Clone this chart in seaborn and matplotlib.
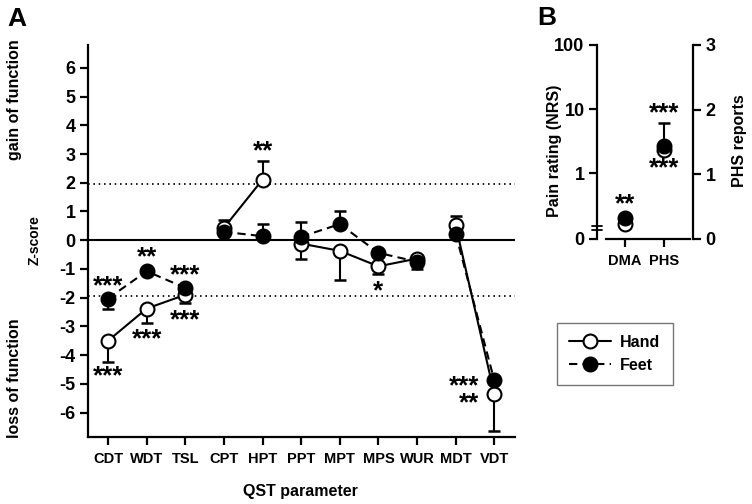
import numpy as np
import pandas as pd
import matplotlib
matplotlib.use("Agg")
import matplotlib.pyplot as plt
from matplotlib.lines import Line2D
from matplotlib.ticker import NullLocator
import seaborn as sns

# QST z-scores (panel A)
params = ['CDT', 'WDT', 'TSL', 'CPT', 'HPT', 'PPT', 'MPT', 'MPS', 'WUR', 'MDT', 'VDT']
hand_z = [-3.50, -2.38, -1.90, 0.43, 2.11, -0.12, -0.37, -0.91, -0.64, 0.52, -5.34]
hand_err = [0.74, 0.49, 0.27, 0.27, 0.64, 0.52, 1.02, 0.25, 0.20, 0.32, 1.31]
feet_z = [-2.03, -1.08, -1.66, 0.29, 0.14, 0.12, 0.56, -0.44, -0.75, 0.23, -4.88]
feet_err = [0.37, 0.10, 0.10, 0.10, 0.44, 0.52, 0.45, 0.10, 0.25, 0.10, 0.10]
segments = [[0, 1, 2], [3, 4], [5, 6, 7, 8], [9, 10]]

# significance stars: text, x position, y (visual centre of last line), alignment
stars_a = [('***', 0, -1.50, 'center'), ('***', 0, -4.63, 'center'),
           ('**', 1, -0.49, 'center'), ('***', 1, -3.37, 'center'),
           ('***', 2, -1.14, 'center'), ('***', 2, -2.69, 'center'),
           ('**', 4, 3.20, 'center'), ('*', 7, -1.68, 'center'),
           ('***\n**', 9.6, -5.57, 'right')]

# panel B
dma_hand, dma_feet = 0.16, 0.20          # pain rating (NRS), log axis
phs_hand, phs_feet = 1.37, 1.44          # PHS reports, linear axis
phs_feet_err = 0.35
stars_b = [('**', 0, 0.58), ('***', 1, 1.98), ('***', 1, 1.14)]

sns.set_style("ticks")
plt.rcParams['font.family'] = ['Liberation Sans', 'DejaVu Sans']
plt.rcParams['font.weight'] = 'bold'
plt.rcParams['axes.labelweight'] = 'bold'
plt.rcParams['axes.unicode_minus'] = False
plt.rcParams['axes.edgecolor'] = 'black'
plt.rcParams['axes.linewidth'] = 1.6
plt.rcParams['text.color'] = 'black'
plt.rcParams['axes.labelcolor'] = 'black'
for k in ['xtick', 'ytick']:
    plt.rcParams[k + '.color'] = 'black'
    plt.rcParams[k + '.labelcolor'] = 'black'
    plt.rcParams[k + '.major.width'] = 1.6

STAR_FS = 18.5

fig = plt.figure(figsize=(7.52, 5.04), dpi=100)

# ---------- Panel A ----------
ax = fig.add_axes([0.117, 0.133, 0.568, 0.778])
df = pd.DataFrame({'param': params, 'pos': np.arange(len(params)),
                   'hand': hand_z, 'hand_err': hand_err,
                   'feet': feet_z, 'feet_err': feet_err})

ax.axhline(0, color='black', lw=1.5, zorder=1)
for lvl in (1.96, -1.96):
    ax.axhline(lvl, color='black', lw=1.2, ls=(0, (1, 2.2)), zorder=1)

for col in ['hand', 'feet']:
    z = df[col].values
    e = df[col + '_err'].values
    lower = np.where(z < 0, e, 0)
    upper = np.where(z >= 0, e, 0)
    ax.errorbar(df['pos'], z, yerr=[lower, upper], fmt='none', ecolor='black',
                elinewidth=1.5, capsize=4.5, capthick=1.8, zorder=2)

for seg in segments:
    d = df.iloc[seg]
    sns.lineplot(data=d, x='pos', y='hand', ax=ax, color='black', lw=1.5,
                 marker='o', markersize=10, markerfacecolor='white',
                 markeredgecolor='black', markeredgewidth=1.5, zorder=3)
    sns.lineplot(data=d, x='pos', y='feet', ax=ax, color='black', lw=1.5,
                 linestyle=(0, (4, 2.5)), marker='o', markersize=10,
                 markerfacecolor='black', markeredgecolor='black',
                 markeredgewidth=1.5, zorder=4)

for txt, x, y, ha in stars_a:
    ax.annotate(txt, (x, y), xytext=(0, -0.38 * STAR_FS), textcoords='offset points',
                ha=ha, va='baseline', ma=ha, linespacing=0.62,
                fontsize=STAR_FS, fontweight='bold')

ax.set_xlim(-0.52, 10.54)
ax.set_ylim(-6.85, 6.8)
ax.set_yticks(range(-6, 7))
ax.set_xticks(df['pos'], params)
ax.tick_params(axis='y', direction='out', length=6, labelsize=13, pad=3)
ax.tick_params(axis='x', direction='out', length=6, labelsize=10.5, pad=5)
sns.despine(ax=ax)

ax.set_xlabel('QST parameter', fontsize=11.5)
ax.xaxis.set_label_coords(0.497, -0.14)
ax.xaxis.label.set_va('center')
ax.set_ylabel('Z-score', fontsize=10)
ax.yaxis.set_label_coords(-0.124, 0.503)
ax.yaxis.label.set_va('center')

fig.text(15 / 752, 1 - 100 / 504, 'gain of function', rotation=90,
         ha='center', va='center', fontsize=11.5)
fig.text(15 / 752, 1 - 378 / 504, 'loss of function', rotation=90,
         ha='center', va='center', fontsize=11.5)
fig.text(17 / 752, 1 - 19 / 504, 'A', fontsize=19, ha='center', va='center')
fig.text(547 / 752, 1 - 18 / 504, 'B', fontsize=19, ha='center', va='center')

# ---------- Panel B ----------
axb = fig.add_axes([0.794, 0.526, 0.1275, 0.385])
axb.set_yscale('log')
axb.set_ylim(0.095, 100)
axb.set_xlim(-0.72, 1.74)
axb2 = axb.twinx()
axb2.set_ylim(0, 3)

dfb_left = pd.DataFrame({'x': [0, 0], 'y': [dma_hand, dma_feet], 'grp': ['Hand', 'Feet']})
dfb_right = pd.DataFrame({'x': [1, 1], 'y': [phs_hand, phs_feet], 'grp': ['Hand', 'Feet']})

axb2.errorbar([1], [phs_feet], yerr=[[0], [phs_feet_err]], fmt='none', ecolor='black',
              elinewidth=1.5, capsize=4.5, capthick=1.8, zorder=2)
for dd, a in [(dfb_left, axb), (dfb_right, axb2)]:
    for grp, fc in [('Hand', 'white'), ('Feet', 'black')]:
        sub = dd[dd['grp'] == grp]
        sns.scatterplot(data=sub, x='x', y='y', ax=a, s=100, color=fc,
                        edgecolor='black', linewidth=1.5, zorder=3, legend=False)

for txt, x, y in stars_b:
    axb2.annotate(txt, (x, y), xytext=(0, -0.38 * STAR_FS), textcoords='offset points',
                  ha='center', va='baseline', fontsize=STAR_FS, fontweight='bold')

axb.set_yticks([0.095, 1, 10, 100], ['0', '1', '10', '100'])
axb.yaxis.set_minor_locator(NullLocator())
axb.set_xticks([0, 1], ['DMA', 'PHS'])
axb2.set_yticks([0, 1, 2, 3])
axb.tick_params(axis='y', direction='out', length=6, labelsize=13, pad=3)
axb.tick_params(axis='x', direction='out', length=6, labelsize=10.5, pad=5)
axb2.tick_params(axis='y', direction='out', length=6, labelsize=13, pad=3)

axb.spines['top'].set_visible(False)
axb.spines['right'].set_visible(False)
axb.spines['bottom'].set_bounds(-0.5, 1.67)
for s in ['top', 'left', 'bottom']:
    axb2.spines[s].set_visible(False)

# axis break marks on the left spine
for yy in (0.045, 0.065):
    axb.plot([-0.05, 0.05], [yy, yy], color='black', lw=1.3,
             transform=axb.transAxes, clip_on=False, zorder=5)

axb.set_xlabel('')
axb.set_ylabel('Pain rating (NRS)', fontsize=11.5)
axb.yaxis.set_label_coords(-0.44, 0.454)
axb.yaxis.label.set_va('center')
axb2.set_ylabel('PHS reports', fontsize=11.5)
axb2.yaxis.set_label_coords(1.49, 0.505)
axb2.yaxis.label.set_va('center')

# legend
handles = [Line2D([0], [0], color='black', lw=1.5, marker='o', ms=10,
                  mfc='white', mec='black', mew=1.5),
           Line2D([0], [0], color='black', lw=1.5, ls=(0, (4, 2.5)), marker='o', ms=10,
                  mfc='black', mec='black', mew=1.5)]
leg = fig.legend(handles, ['Hand', 'Feet'], loc='upper left',
                 bbox_to_anchor=(0.741, 0.359), borderaxespad=0, fancybox=False,
                 frameon=True, fontsize=11.5, handlelength=2.6, labelspacing=0.5,
                 borderpad=0.75, handletextpad=0.6)
leg.get_frame().set_edgecolor('#555555')
leg.get_frame().set_linewidth(1.0)
for t in leg.get_texts():
    t.set_fontweight('bold')

fig.savefig('out.png', dpi=100)
